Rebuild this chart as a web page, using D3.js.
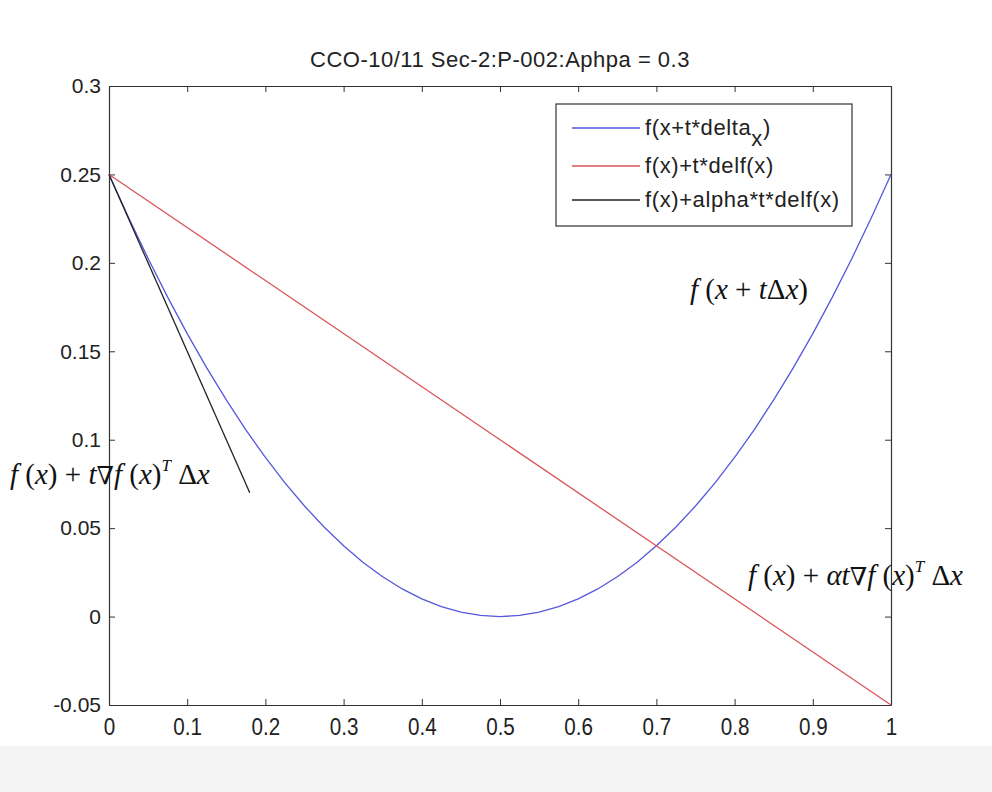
<!DOCTYPE html>
<html>
<head>
<meta charset="utf-8">
<script src="https://cdn.jsdelivr.net/npm/d3@7"></script>
<style>
  body { margin: 0; background: #fff; }
  svg { display: block; }
</style>
</head>
<body>
<svg id="chart"></svg>
<script>
var tValues = [0, 0.025, 0.05, 0.075, 0.1, 0.125, 0.15, 0.175, 0.2, 0.225, 0.25, 0.275, 0.3, 0.325, 0.35, 0.375, 0.4, 0.425, 0.45, 0.475, 0.5,
  0.525, 0.55, 0.575, 0.6, 0.625, 0.65, 0.675, 0.7, 0.725, 0.75, 0.775, 0.8, 0.825, 0.85, 0.875, 0.9, 0.925, 0.95, 0.975, 1]
var fLine = [0.25, 0.225625, 0.2025, 0.180625, 0.16, 0.140625, 0.1225, 0.105625, 0.09, 0.075625, 0.0625, 0.050625, 0.04, 0.030625, 0.0225, 0.015625, 0.01, 0.005625, 0.0025, 0.000625, 0,
  0.000625, 0.0025, 0.005625, 0.01, 0.015625, 0.0225, 0.030625, 0.04, 0.050625, 0.0625, 0.075625, 0.09, 0.105625, 0.1225, 0.140625, 0.16, 0.180625, 0.2025, 0.225625, 0.25]
var redT = [0, 1]
var redLine = [0.25, -0.05]
var blackT = [0, 0.18]
var blackLine = [0.25, 0.07]

var xTicks = [0, 0.1, 0.2, 0.3, 0.4, 0.5, 0.6, 0.7, 0.8, 0.9, 1]
var yTicks = [-0.05, 0, 0.05, 0.1, 0.15, 0.2, 0.25, 0.3]
var legendLabels = ["f(x+t*delta", "f(x)+t*delf(x)", "f(x)+alpha*t*delf(x)"]
var colors = ["#5757dc", "#d8555a", "#222222"]

var dimensions = {
  width: 992,
  height: 792,
  margin: { top: 86, bottom: 87, right: 101, left: 109 }
}

var svg = d3.select("#chart")
  .attr("width", dimensions.width)
  .attr("height", dimensions.height)
  .style("font-family", "'Liberation Sans', Arial, sans-serif")

// gray strip at the bottom of the screenshot
svg.append("rect")
  .attr("x", 0).attr("y", 746)
  .attr("width", dimensions.width).attr("height", 46)
  .attr("fill", "#f4f4f5")

var xScale = d3.scaleLinear()
  .domain([0, 1])
  .range([dimensions.margin.left, dimensions.width - dimensions.margin.right])

var yScale = d3.scaleLinear()
  .domain([-0.05, 0.3])
  .range([dimensions.height - dimensions.margin.bottom, dimensions.margin.top])

var x0 = xScale.range()[0], x1 = xScale.range()[1]
var y0 = yScale.range()[0], y1 = yScale.range()[1]

// axes (MATLAB style, ticks inward on all sides)
var tickFmt = d => String(+d.toFixed(2))
var xAxis = svg.append("g")
  .attr("transform", `translate(0,${y0})`)
  .call(d3.axisBottom(xScale).tickValues(xTicks).tickSizeInner(-6).tickSizeOuter(0).tickPadding(13).tickFormat(tickFmt))
svg.append("g")
  .attr("transform", `translate(0,${y1})`)
  .call(d3.axisTop(xScale).tickValues(xTicks).tickSizeInner(-6).tickSizeOuter(0).tickFormat(""))

var yAxis = svg.append("g")
  .attr("transform", `translate(${x0},0)`)
  .call(d3.axisLeft(yScale).tickValues(yTicks).tickSizeInner(-6).tickSizeOuter(0).tickPadding(8).tickFormat(tickFmt))
svg.append("g")
  .attr("transform", `translate(${x1},0)`)
  .call(d3.axisRight(yScale).tickValues(yTicks).tickSizeInner(-6).tickSizeOuter(0).tickFormat(""))

svg.selectAll(".domain").attr("stroke", "#333").attr("stroke-width", 1.2)
svg.selectAll(".tick line").attr("stroke", "#333")
svg.selectAll(".tick text").attr("fill", "#222")
  .attr("font-family", "'Liberation Sans', Arial, sans-serif")
yAxis.selectAll(".tick text").attr("font-size", 21)
xAxis.selectAll(".tick text").attr("font-size", 24).attr("transform", "scale(0.86,1)")

// lines
var line = d3.line()
  .x(d => xScale(d[0]))
  .y(d => yScale(d[1]))

var plot = svg.append("g")
plot.append("path")
  .datum(d3.zip(tValues, fLine))
  .attr("d", line).attr("fill", "none")
  .attr("stroke", colors[0]).attr("stroke-width", 1.3)
plot.append("path")
  .datum(d3.zip(redT, redLine))
  .attr("d", line).attr("fill", "none")
  .attr("stroke", colors[1]).attr("stroke-width", 1.3)
plot.append("path")
  .datum(d3.zip(blackT, blackLine))
  .attr("d", line).attr("fill", "none")
  .attr("stroke", colors[2]).attr("stroke-width", 1.3)

// title
svg.append("text")
  .attr("x", (x0 + x1) / 2).attr("y", 67)
  .attr("text-anchor", "middle")
  .attr("font-size", 22).attr("letter-spacing", 0.5).attr("fill", "#222")
  .text("CCO-10/11 Sec-2:P-002:Aphpa = 0.3")

// legend
var legend = svg.append("g")
legend.append("rect")
  .attr("x", 556).attr("y", 104).attr("width", 296).attr("height", 122)
  .attr("fill", "#fff").attr("stroke", "#333").attr("stroke-width", 1.2)
var rowsY = [128, 166, 200]
legendLabels.forEach(function (label, i) {
  legend.append("line")
    .attr("x1", 572).attr("x2", 640).attr("y1", rowsY[i]).attr("y2", rowsY[i])
    .attr("stroke", colors[i]).attr("stroke-width", 1.3)
  var t = legend.append("text")
    .attr("x", 645).attr("y", rowsY[i] + 7)
    .attr("font-size", 22).attr("letter-spacing", 0.6).attr("fill", "#222")
    .text(label)
  if (i === 0) {
    t.append("tspan").attr("dy", 11).text("x")
    t.append("tspan").attr("dy", -11).text(")")
  }
})

// math annotations, serif like the picture
function mathLabel(x, y, parts) {
  var t = svg.append("text")
    .attr("x", x).attr("y", y)
    .attr("font-family", "'Liberation Serif', 'Times New Roman', serif")
    .attr("font-size", 29).attr("fill", "#111")
  parts.forEach(function (p) {
    var s = t.append("tspan").text(p[0])
    if (p[1] === "i") s.attr("font-style", "italic")
    if (p[1] === "sup") s.attr("font-style", "italic").attr("font-size", 17).attr("dy", -13)
    if (p[1] === "nabla") s.attr("font-family", "'DejaVu Serif', serif").attr("font-weight", 400).attr("font-size", 25)
    if (p[2]) s.attr("dy", p[2])
  })
}

mathLabel(690, 299, [["f", "i"], [" ("], ["x", "i"], [" + "], ["t", "i"], ["Δ"], ["x", "i"], [")"]])
mathLabel(10, 484, [["f", "i"], [" ("], ["x", "i"], [")"], [" + "], ["t", "i"], ["∇", "nabla"], ["f", "i"], [" ("], ["x", "i"], [")"], ["T", "sup"], [" Δ", "", 13], ["x", "i"]])
mathLabel(748, 585, [["f", "i"], [" ("], ["x", "i"], [")"], [" + "], ["αt", "i"], ["∇", "nabla"], ["f", "i"], [" ("], ["x", "i"], [")"], ["T", "sup"], [" Δ", "", 13], ["x", "i"]])
</script>
</body>
</html>
